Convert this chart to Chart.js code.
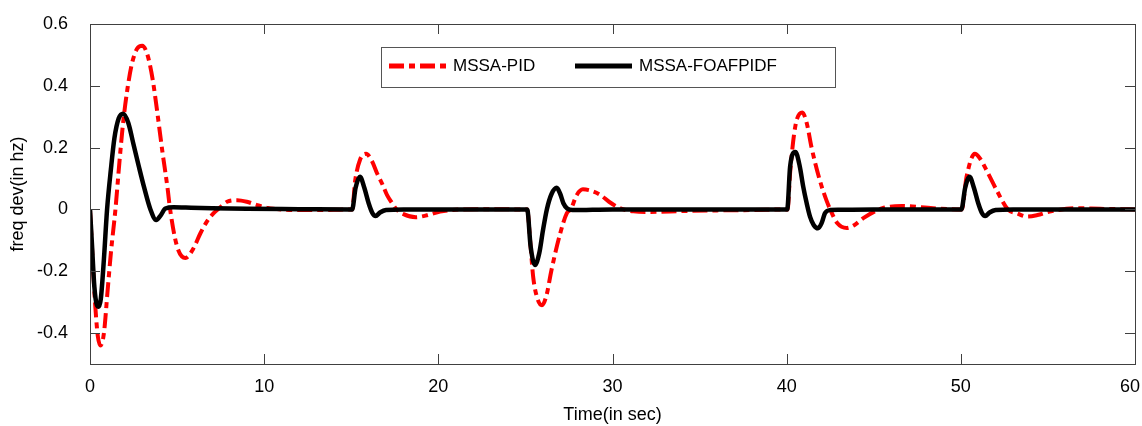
<!DOCTYPE html>
<html>
<head>
<meta charset="utf-8">
<script src="https://cdn.jsdelivr.net/npm/chart.js@4.4.1/dist/chart.umd.min.js"></script>
<style>
  body { margin: 0; background: #fff; }
  #wrap { width: 1142px; height: 426px; }
</style>
</head>
<body>
<div id="wrap"><canvas id="freqChart" width="1142" height="426"></canvas></div>
<script>
// values
const seriesNames = ['MSSA-PID', 'MSSA-FOAFPIDF']

const pidTime = [
  0, 0.15, 0.3, 0.45, 0.6, 0.8, 1.0, 1.2, 1.46, 1.7, 1.9, 2.15, 2.4, 2.7, 3.0, 3.3, 3.6, 3.85, 4.15, 4.45,
  4.6, 5.0, 5.48, 5.9, 6.34, 6.7, 7.1, 7.5, 7.87, 8.45, 9.0, 9.6, 10.2, 11, 12, 13, 14,
  15, 15.05, 15.23, 15.5, 15.85, 16.2, 16.48, 16.8, 17.05, 17.35, 17.6, 18.0, 18.7, 19.4, 20.1, 21.3, 23,
  25, 25.1, 25.27, 25.45, 25.7, 25.95, 26.2, 26.5, 27.0, 27.38, 27.6, 27.95, 28.3, 28.8, 29.3, 29.8, 30.4,
  31.2, 32.2, 34, 36, 38,
  40, 40.05, 40.2, 40.5, 40.9, 41.15, 41.43, 41.9, 42.28, 42.5, 42.9, 43.45, 43.9, 44.4, 45.5, 46.6, 48.4,
  50, 50.05, 50.33, 50.8, 51.1, 51.47, 52.05, 52.7, 53.2, 53.8, 54.4, 55.1, 56.6, 58, 60
]
const pidDev = [
  0, -0.16, -0.31, -0.41, -0.44, -0.40, -0.27, -0.14, 0, 0.16, 0.28, 0.39, 0.47, 0.52, 0.53, 0.50, 0.42, 0.32, 0.19, 0.07,
  0.0, -0.12, -0.157, -0.13, -0.077, -0.04, -0.012, 0.008, 0.025, 0.03, 0.025, 0.014, 0.005, 0.0, -0.002, -0.002, -0.001,
  0, 0, 0.095, 0.16, 0.18, 0.155, 0.117, 0.08, 0.047, 0.02, 0.0, -0.015, -0.025, -0.018, -0.007, 0.0, 0.001,
  0, 0, -0.1, -0.22, -0.29, -0.31, -0.28, -0.195, -0.077, -0.012, 0.0, 0.047, 0.065, 0.06, 0.047, 0.025, 0.005,
  -0.006, -0.008, -0.005, -0.003, -0.002,
  0, 0, 0.12, 0.27, 0.314, 0.28, 0.2, 0.095, 0.03, 0.0, -0.044, -0.06, -0.05, -0.028, 0.004, 0.011, 0.004,
  0, 0, 0.106, 0.18, 0.165, 0.127, 0.063, 0.0, -0.012, -0.023, -0.018, -0.007, 0.004, 0.002, 0
]

const foaTime = [
  0, 0.1, 0.25, 0.4, 0.5, 0.62, 0.8, 0.98, 1.2, 1.4, 1.65, 1.9, 2.2, 2.5, 2.8, 3.1, 3.47, 3.8, 4.05, 4.33,
  4.8, 5.5, 7, 9, 12,
  15, 15.05, 15.25, 15.5, 15.75, 16.0, 16.2, 16.4, 16.65, 17.0, 18,
  25, 25.1, 25.3, 25.55, 25.8, 26.0, 26.23, 26.5, 26.8, 27.0, 27.18, 27.4, 27.7, 30,
  40, 40.03, 40.2, 40.5, 40.75, 40.95, 41.15, 41.34, 41.55, 41.8, 42.0, 42.2, 42.5, 43, 45,
  50, 50.03, 50.25, 50.5, 50.75, 51.0, 51.2, 51.4, 51.65, 52.0, 53, 60
]
const foaDev = [
  0, -0.1, -0.25, -0.31, -0.315, -0.29, -0.16, 0.0, 0.13, 0.23, 0.295, 0.31, 0.28, 0.21, 0.14, 0.073, 0.0, -0.034, -0.02, 0.003,
  0.007, 0.006, 0.004, 0.002, 0.001,
  0, 0, 0.07, 0.106, 0.07, 0.02, -0.01, -0.021, -0.01, -0.002, 0,
  0, 0, -0.12, -0.18, -0.14, -0.07, 0.0, 0.05, 0.07, 0.05, 0.02, 0.003, -0.002, 0,
  0, 0, 0.14, 0.186, 0.14, 0.074, 0.02, -0.023, -0.05, -0.061, -0.045, -0.012, -0.002, -0.001, 0,
  0, 0, 0.07, 0.106, 0.07, 0.02, -0.01, -0.021, -0.01, -0.002, 0, 0
]

const xTicks = [0, 10, 20, 30, 40, 50, 60]
const yTicks = [-0.4, -0.2, 0, 0.2, 0.4, 0.6]

const font = "'Liberation Sans', Arial, sans-serif"

const toPoints = (ts, vs) => ts.map((t, i) => ({x: t, y: vs[i]}))

// box round the plot, ticks pointing inwards on all four sides, x labels, legend inside
const framePlugin = {
  id: 'frame',
  afterDatasetsDraw(chart) {
    const {ctx, chartArea: a, scales, width} = chart
    const len = 10
    ctx.save()
    ctx.strokeStyle = '#404040'
    ctx.lineWidth = 1
    ctx.beginPath()
    xTicks.forEach(v => {
      const px = Math.round(scales.x.getPixelForValue(v)) + 0.5
      ctx.moveTo(px, a.bottom); ctx.lineTo(px, a.bottom - len)
      ctx.moveTo(px, a.top); ctx.lineTo(px, a.top + len)
    })
    yTicks.forEach(v => {
      const py = Math.round(scales.y.getPixelForValue(v)) + 0.5
      ctx.moveTo(a.left, py); ctx.lineTo(a.left + len, py)
      ctx.moveTo(a.right, py); ctx.lineTo(a.right - len, py)
    })
    ctx.stroke()
    ctx.strokeRect(Math.round(a.left) + 0.5, Math.round(a.top) + 0.5,
      Math.round(a.right - a.left), Math.round(a.bottom - a.top))

    // x tick labels, the last one kept inside the canvas
    ctx.font = `18px ${font}`
    ctx.fillStyle = '#000'
    ctx.textBaseline = 'middle'
    ctx.textAlign = 'center'
    xTicks.forEach(v => {
      const label = String(v)
      const w = ctx.measureText(label).width
      let px = scales.x.getPixelForValue(v)
      px = Math.min(px, width - 2 - w / 2)
      ctx.fillText(label, px, a.bottom + 23)
    })

    // legend
    const bx = a.left + 291, by = a.top + 23, bw = 454, bh = 40
    ctx.textAlign = 'left'
    ctx.fillStyle = '#fff'
    ctx.fillRect(bx, by, bw, bh)
    ctx.strokeStyle = '#555'
    ctx.strokeRect(bx + 0.5, by + 0.5, bw, bh)
    const cy = by + 19
    const items = [[bx + 8, 0], [bx + 194, 1]]
    ctx.font = `17px ${font}`
    items.forEach(([lx, di]) => {
      const ds = chart.data.datasets[di]
      ctx.strokeStyle = ds.borderColor
      ctx.lineWidth = 5
      ctx.setLineDash(ds.borderDash || [])
      ctx.beginPath()
      ctx.moveTo(lx, cy); ctx.lineTo(lx + 57, cy)
      ctx.stroke()
      ctx.setLineDash([])
      ctx.fillStyle = '#000'
      ctx.fillText(ds.label, lx + 64, cy)
    })
    ctx.restore()
  }
}

const ctx = document.getElementById('freqChart').getContext('2d')
const freqChart = new Chart(ctx, {
  type: 'line',
  data: {
    datasets: [{
      label: seriesNames[0],
      data: toPoints(pidTime, pidDev),
      borderColor: '#ff0000',
      borderWidth: 4,
      borderDash: [15, 5, 6, 5],
      pointRadius: 0,
      cubicInterpolationMode: 'monotone',
      order: 1
    }, {
      label: seriesNames[1],
      data: toPoints(foaTime, foaDev),
      borderColor: '#000000',
      borderWidth: 4.5,
      pointRadius: 0,
      cubicInterpolationMode: 'monotone',
      order: 0
    }]
  },
  options: {
    responsive: false,
    animation: false,
    layout: {padding: {top: 24, right: 7, left: 0, bottom: 0}},
    plugins: {legend: {display: false}, tooltip: {enabled: false}},
    scales: {
      x: {
        type: 'linear',
        min: 0,
        max: 60,
        afterBuildTicks: s => { s.ticks = xTicks.map(v => ({value: v})) },
        afterFit: s => { s.height = 62; s.paddingLeft = 0; s.paddingRight = 0 },
        grid: {display: false},
        border: {display: false},
        ticks: {display: false},
        title: {display: true, text: 'Time(in sec)', color: '#000', font: {family: font, size: 18}, padding: {top: 2, bottom: 0}}
      },
      y: {
        min: -0.5,
        max: 0.6,
        afterBuildTicks: s => { s.ticks = yTicks.map(v => ({value: v})) },
        afterFit: s => { s.width = 90; s.paddingTop = 0; s.paddingBottom = 0 },
        grid: {display: false},
        border: {display: false},
        ticks: {color: '#000', font: {family: font, size: 18}, padding: 14, callback: v => String(v)},
        title: {display: true, text: 'freq dev(in hz)', color: '#000', font: {family: font, size: 18}, padding: {top: 7, bottom: 0}}
      }
    }
  },
  plugins: [framePlugin]
})
</script>
</body>
</html>
